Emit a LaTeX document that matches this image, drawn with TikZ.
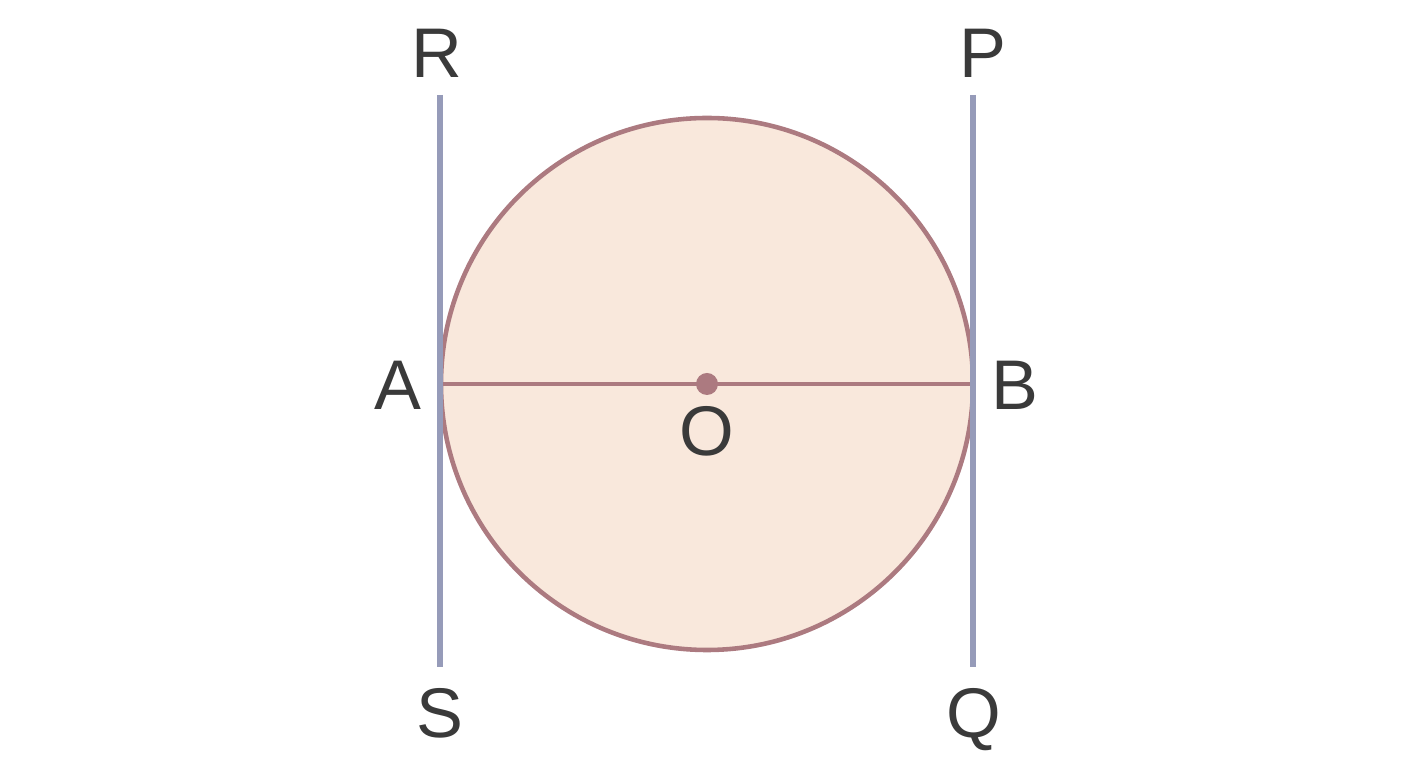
\documentclass[tikz,border=0pt]{standalone}
\usepackage{fontspec}
\setmainfont{Liberation Sans}
\definecolor{rimcol}{RGB}{172,122,128}
\definecolor{discfill}{RGB}{249,232,220}
\definecolor{tancol}{RGB}{150,155,185}
\definecolor{labcol}{RGB}{58,58,58}
\tikzset{
  rim/.style={draw=rimcol,line width=2.6pt},
  tangent/.style={draw=tancol,line width=3pt},
  lab/.style={text=labcol,font=\fontsize{40}{44}\selectfont,inner sep=0pt,anchor=base}
}

\begin{document}
\begin{tikzpicture}
\useasboundingbox (0,0) rectangle (28.16,15.36);
% Circle with diameter AB
\coordinate (O) at (14.14,7.68);
\coordinate (A) at (8.84,7.68);
\coordinate (B) at (19.44,7.68);
\draw[rim,fill=discfill] (O) circle (5.32);
\draw[draw=rimcol,line width=2.4pt] (A) -- (B);
\fill[rimcol] (O) circle (0.22);

% Tangent lines
\coordinate (Rt) at (8.8,13.46);
\coordinate (Sb) at (8.8,2.02);
\coordinate (Pt) at (19.46,13.46);
\coordinate (Qb) at (19.46,2.02);
\draw[tangent] (Rt) -- (Sb);
\draw[tangent] (Pt) -- (Qb);

% Labels
\node[lab] (labR) at (8.73,13.8) {R};
\node[lab] (labP) at (19.66,13.8) {P};
\node[lab] (labA) at (7.96,7.16) {A};
\node[lab] (labB) at (20.3,7.16) {B};
\node[lab] (labO) at (14.14,6.24) {O};
\node[lab] (labS) at (8.8,0.6) {S};
\node[lab] (labQ) at (19.48,0.6) {Q};
\end{tikzpicture}
\end{document}
